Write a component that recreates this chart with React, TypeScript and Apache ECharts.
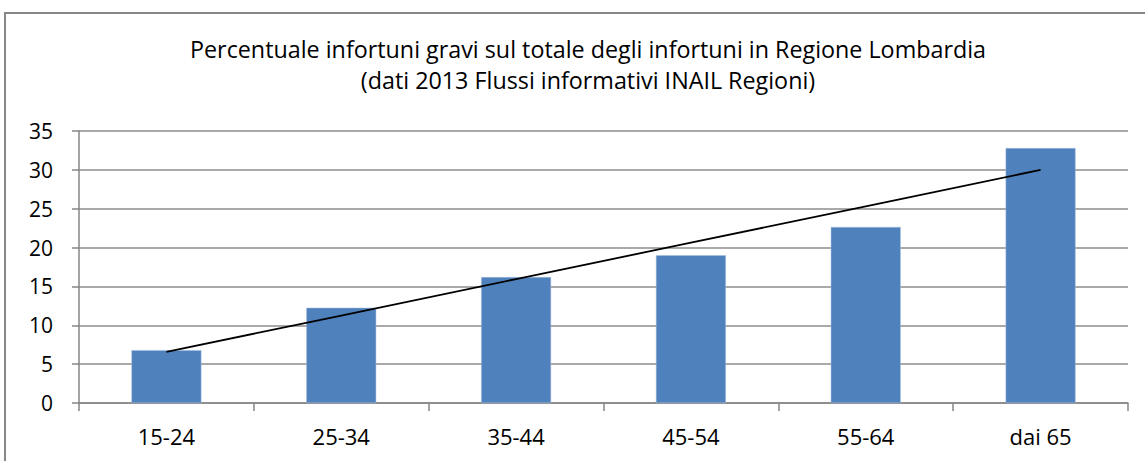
import React, { useEffect, useRef } from "react";
import * as echarts from "echarts";

const titleLines = [
  "Percentuale infortuni gravi sul totale degli infortuni in Regione Lombardia",
  "(dati 2013 Flussi informativi INAIL Regioni)",
];
const categories = ["15-24", "25-34", "35-44", "45-54", "55-64", "dai 65"];
const values = [6.8, 12.26, 16.2, 19.0, 22.65, 32.8];
const yTicks = [0, 5, 10, 15, 20, 25, 30, 35];

// Linear trend line (least squares over category index), as Excel does
function linearTrend(ys: number[]): number[] {
  const n = ys.length;
  const xs = ys.map((_, i) => i + 1);
  const mx = xs.reduce((a, b) => a + b, 0) / n;
  const my = ys.reduce((a, b) => a + b, 0) / n;
  let sxy = 0;
  let sxx = 0;
  for (let i = 0; i < n; i++) {
    sxy += (xs[i] - mx) * (ys[i] - my);
    sxx += (xs[i] - mx) * (xs[i] - mx);
  }
  const b = sxy / sxx;
  const a = my - b * mx;
  return xs.map((x) => a + b * x);
}

const FONT = "'Open Sans', 'Noto Sans', sans-serif";

export default function App() {
  const ref = useRef<HTMLDivElement>(null);
  useEffect(() => {
    if (!ref.current) return;
    const chart = echarts.init(ref.current, undefined, { renderer: "svg" });
    const trend = linearTrend(values);
    chart.setOption({
      animation: false,
      backgroundColor: "#ffffff",
      title: {
        text: titleLines.join("\n"),
        left: 583,
        textAlign: "center",
        top: 28,
        textStyle: {
          fontFamily: FONT,
          fontWeight: "normal",
          fontSize: 23.3,
          lineHeight: 31,
          color: "#000000",
        },
      },
      graphic: [
        {
          type: "rect",
          shape: { x: 5, y: 13, width: 1200, height: 500 },
          style: { fill: "none", stroke: "#878787", lineWidth: 2 },
          silent: true,
          z: 100,
        },
      ],
      grid: { left: 79, right: 17, top: 131, bottom: 58, containLabel: false },
      xAxis: {
        type: "category",
        data: categories,
        boundaryGap: true,
        axisLine: { show: true, lineStyle: { color: "#868686", width: 1.5 } },
        axisTick: { show: true, length: 8, lineStyle: { color: "#868686", width: 1.5 } },
        axisLabel: {
          color: "#000000",
          fontFamily: FONT,
          fontSize: 22,
          margin: 22,
        },
      },
      yAxis: {
        type: "value",
        min: 0,
        max: 35,
        interval: 5,
        axisLine: { show: true, lineStyle: { color: "#868686", width: 1.5 } },
        axisTick: { show: true, length: 7, lineStyle: { color: "#868686", width: 1.5 } },
        splitLine: { show: true, lineStyle: { color: "#8c8c8c", width: 1.5 } },
        axisLabel: {
          color: "#000000",
          fontFamily: FONT,
          fontSize: 21,
          margin: 26,
          formatter: (v: number) => (yTicks.includes(v) ? String(v) : ""),
        },
      },
      series: [
        {
          type: "bar",
          data: values,
          barWidth: "40%",
          itemStyle: { color: "#4F81BD", borderColor: "#A7BFDE", borderWidth: 0.5 },
          z: 2,
        },
        {
          type: "line",
          data: trend,
          symbol: "none",
          lineStyle: { color: "#000000", width: 1.8 },
          z: 3,
        },
      ],
    });
    return () => chart.dispose();
  }, []);
  return (
    <div
      ref={ref}
      style={{ position: "fixed", left: 0, top: 0, width: 1145, height: 461 }}
    />
  );
}
